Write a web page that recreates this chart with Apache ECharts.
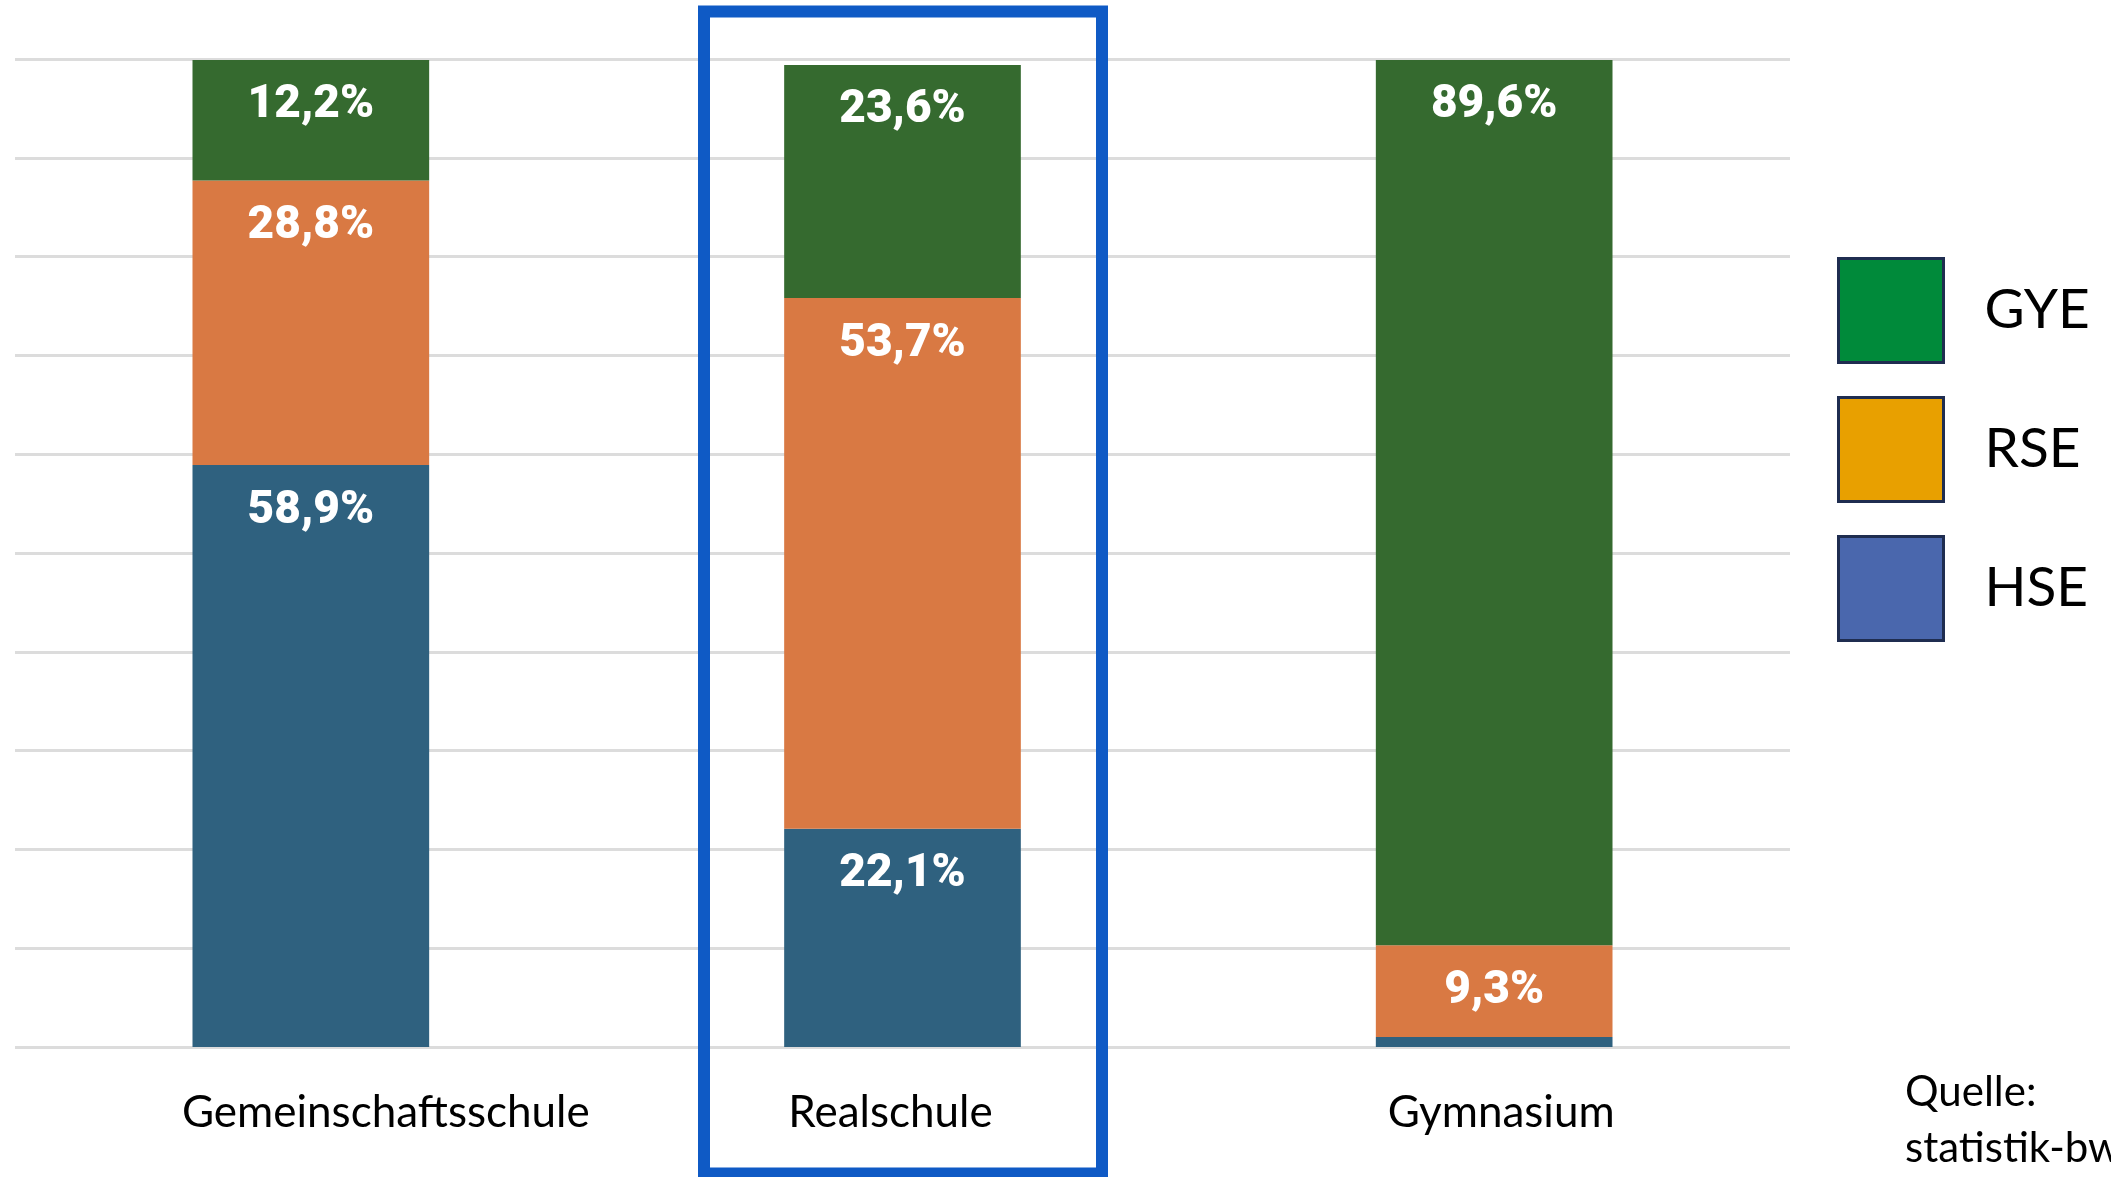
<!DOCTYPE html>
<html>
<head>
<meta charset="utf-8">
<script src="https://cdn.jsdelivr.net/npm/echarts@6/dist/echarts.min.js"></script>
<style>
html,body{margin:0;padding:0;background:#fff;}
#chart{width:2111px;height:1177px;}
</style>
</head>
<body>
<div id="chart"></div>
<script>
const categories = ['Gemeinschaftsschule', 'Realschule', 'Gymnasium'];
const hseValues = [58.9, 22.1, 1.0];
const rseValues = [28.8, 53.7, 9.3];
const gyeValues = [12.2, 23.6, 89.6];
const seriesNames = ['HSE', 'RSE', 'GYE'];
const legendOrder = ['GYE', 'RSE', 'HSE'];
const sourceText = 'Quelle:\nstatistik-bw.de';

const barColors = {HSE: '#2f617f', RSE: '#d97943', GYE: '#356a2f'};
const legendColors = {HSE: '#4a67ad', RSE: '#e8a000', GYE: '#008a3a'};
const labelShift = {'Gemeinschaftsschule': [0, 0, 0, 150], 'Realschule': [0, 24, 0, 0], 'Gymnasium': [0, 0, 0, 14]};

const chart = echarts.init(document.getElementById('chart'));

function fmt(p) {
  if (p.value < 2) return '';
  return p.value.toFixed(1).replace('.', ',') + '%';
}

function makeSeries(name, data) {
  return {
    name: name,
    type: 'bar',
    stack: 'total',
    barWidth: '40%',
    data: data,
    itemStyle: {color: barColors[name]},
    label: {
      show: true,
      position: 'insideTop',
      distance: 23,
      formatter: fmt,
      color: '#ffffff',
      fontFamily: 'Roboto',
      fontWeight: 900,
      fontSize: 46
    }
  };
}

const rich = {};
categories.forEach((c, i) => {
  rich['c' + i] = {padding: labelShift[c], fontFamily: 'Lato', fontSize: 44, color: '#000'};
});

chart.setOption({
  animation: false,
  backgroundColor: '#ffffff',
  grid: {left: 15, right: 321, top: 59, bottom: 130, containLabel: false},
  xAxis: {
    type: 'category',
    data: categories,
    axisLine: {show: false},
    axisTick: {show: false},
    axisLabel: {
      margin: 44,
      formatter: function (v) { return '{c' + categories.indexOf(v) + '|' + v + '}'; },
      rich: rich
    }
  },
  yAxis: {
    type: 'value',
    min: 0,
    max: 100,
    interval: 10,
    axisLabel: {show: false},
    axisLine: {show: false},
    axisTick: {show: false},
    splitLine: {show: true, lineStyle: {color: '#dcdcdc', width: 3}}
  },
  legend: {
    orient: 'vertical',
    left: 1837,
    top: 257,
    padding: 0,
    itemWidth: 105,
    itemHeight: 104,
    itemGap: 32,
    icon: 'rect',
    data: legendOrder.map(n => ({
      name: n,
      itemStyle: {color: legendColors[n], borderColor: '#1f2d50', borderWidth: 3}
    })),
    textStyle: {fontFamily: 'Lato', fontSize: 55, color: '#000', padding: [0, 0, 0, 36]}
  },
  title: {
    text: sourceText,
    left: 1905,
    top: 1064,
    padding: 0,
    textStyle: {fontFamily: 'Lato', fontSize: 42, fontWeight: 'normal', color: '#000', lineHeight: 56}
  },
  graphic: [{
    type: 'rect',
    shape: {x: 704, y: 11.5, width: 398, height: 1162},
    style: {fill: 'none', stroke: '#0f5ac5', lineWidth: 12},
    z: 100
  }],
  series: [
    makeSeries('HSE', hseValues),
    makeSeries('RSE', rseValues),
    makeSeries('GYE', gyeValues)
  ]
});
</script>
</body>
</html>
